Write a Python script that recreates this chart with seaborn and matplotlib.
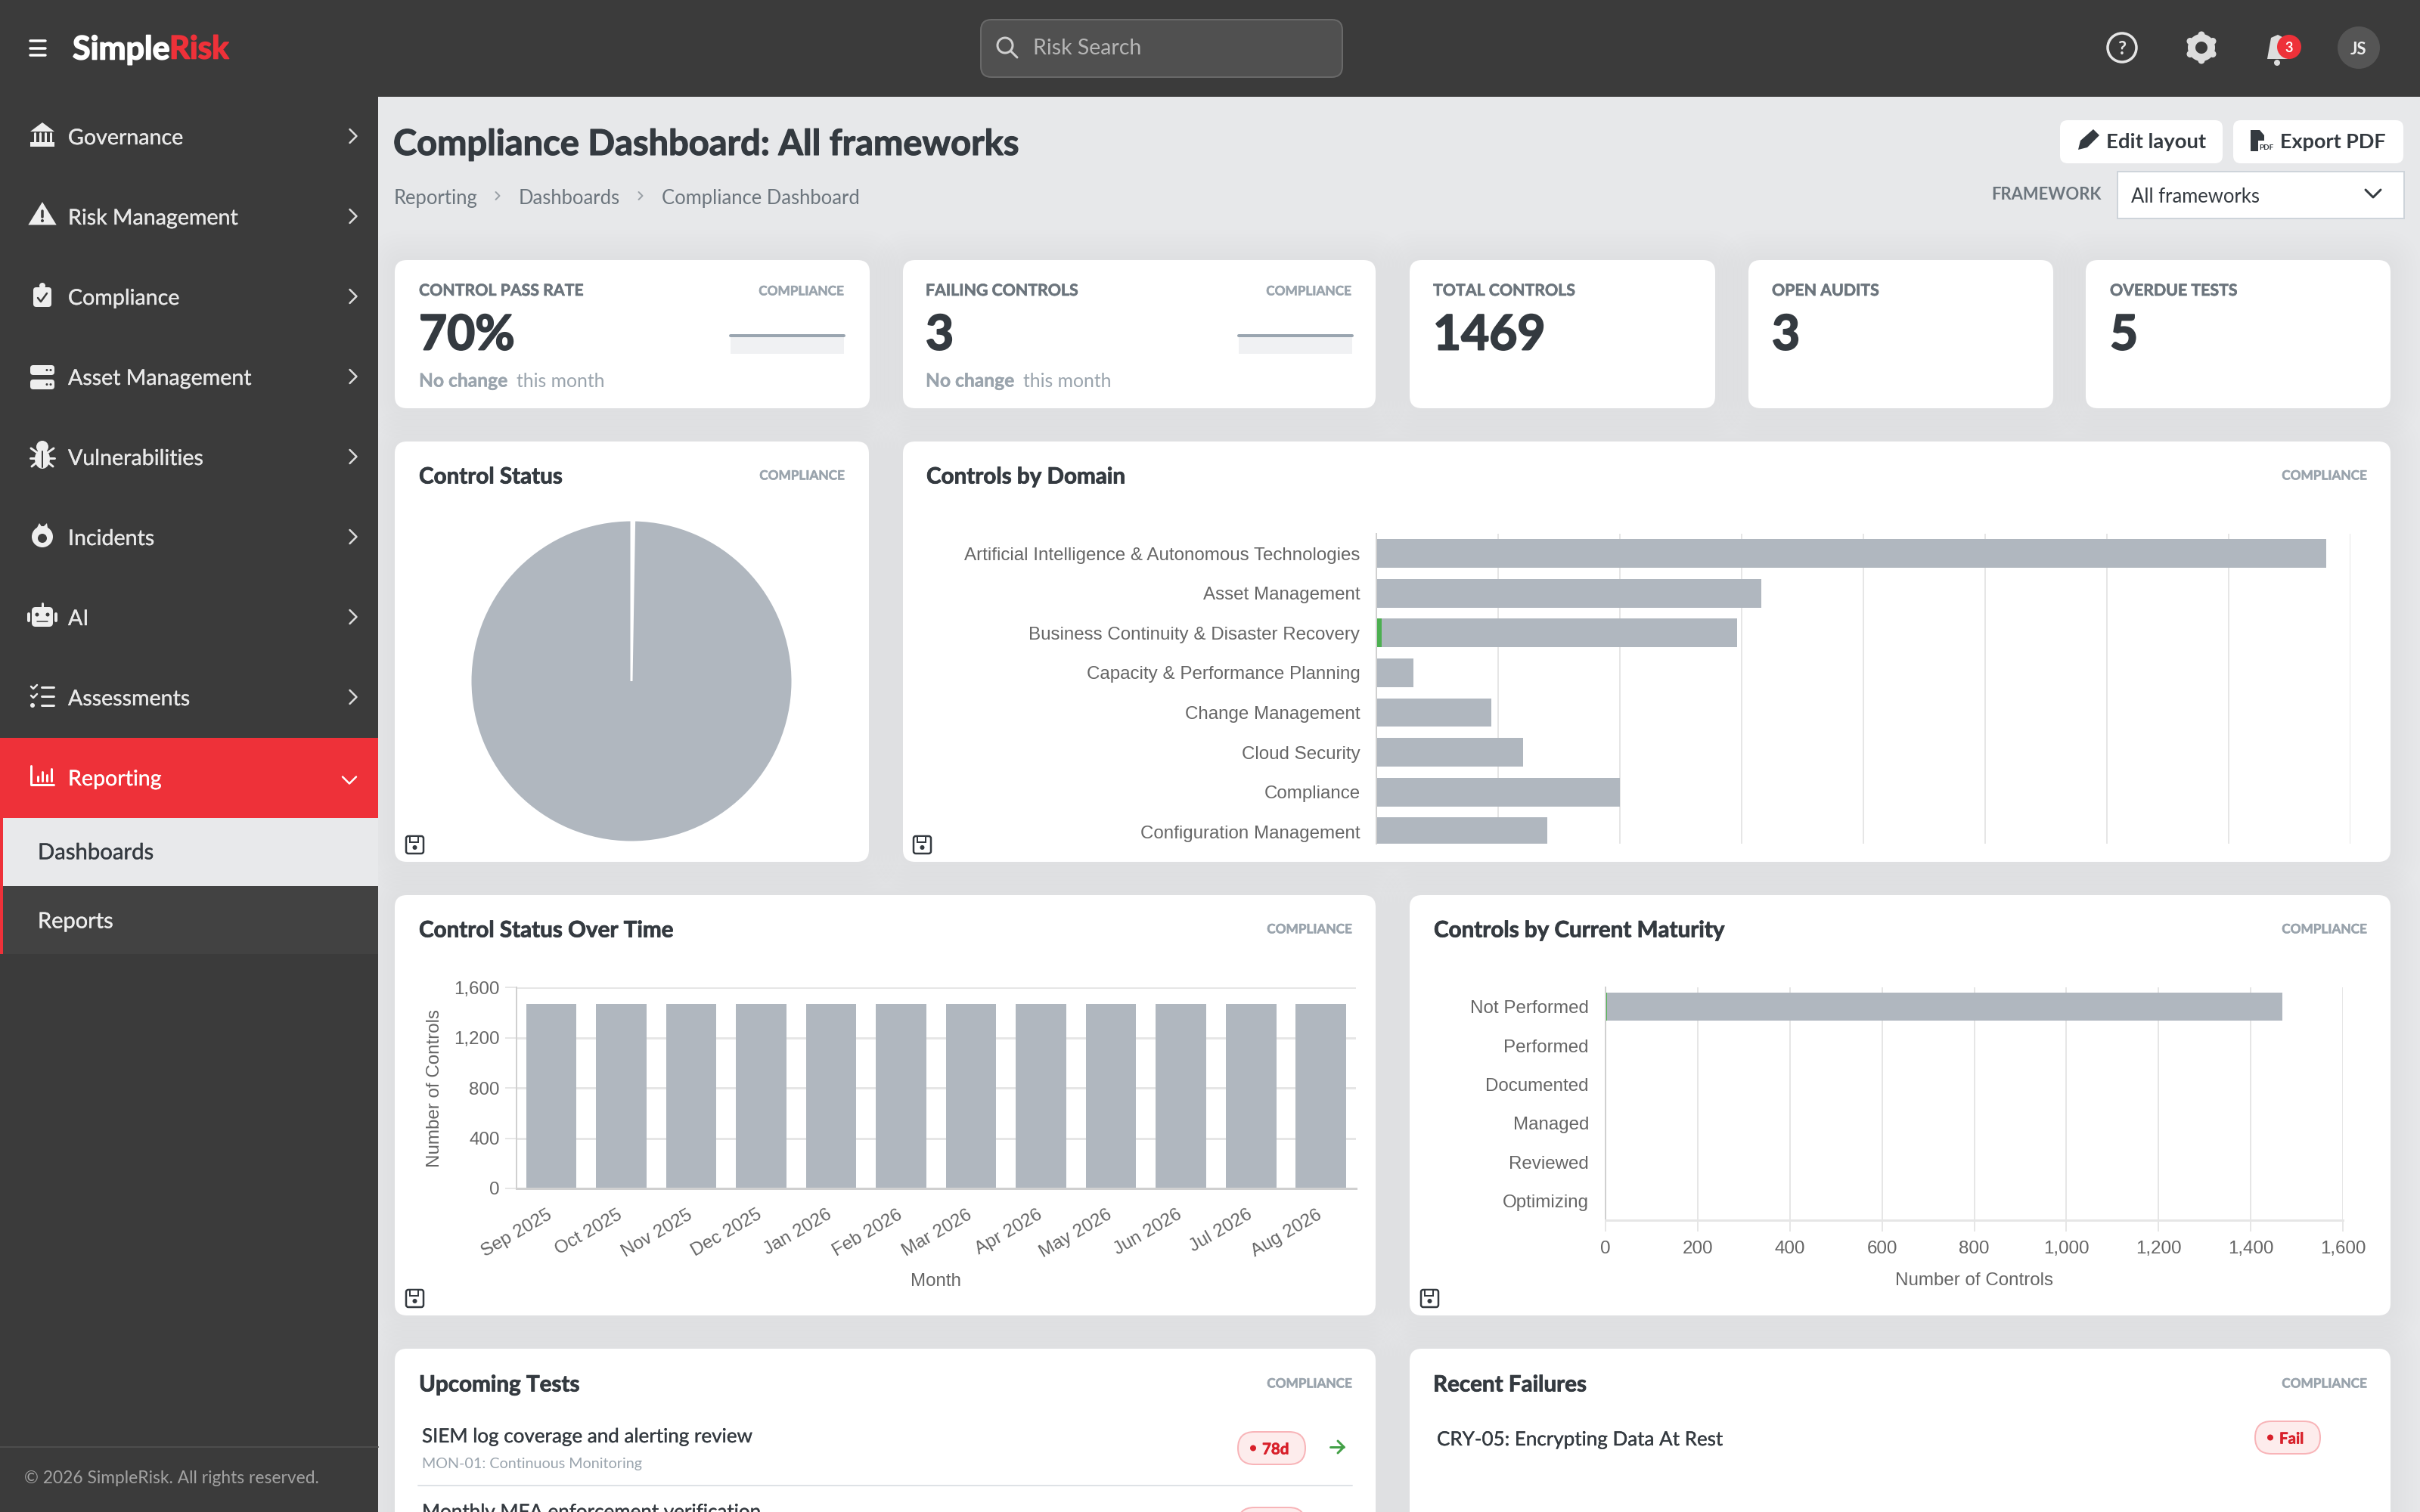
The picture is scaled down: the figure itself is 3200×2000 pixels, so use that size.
import matplotlib
matplotlib.use("Agg")
import matplotlib.pyplot as plt
import matplotlib.patheffects as pe
from matplotlib.transforms import ScaledTranslation
import seaborn as sns
from matplotlib.patches import FancyBboxPatch, Circle, Polygon, Ellipse, Rectangle

# data
domains = ["Artificial Intelligence & Autonomous Technologies", "Asset Management",
           "Business Continuity & Disaster Recovery", "Capacity & Performance Planning",
           "Change Management", "Cloud Security", "Compliance", "Configuration Management"]
domain_total = [390, 158, 148, 15, 47, 60, 100, 70]
domain_pass = [0, 0, 2, 0, 0, 0, 0, 0]
domain_ticks = [0, 50, 100, 150, 200, 250, 300, 350, 400]

months = ["Sep 2025", "Oct 2025", "Nov 2025", "Dec 2025", "Jan 2026", "Feb 2026",
          "Mar 2026", "Apr 2026", "May 2026", "Jun 2026", "Jul 2026", "Aug 2026"]
month_total = [1469] * 12
month_pass = [0, 0, 0, 0, 0, 0, 0, 0, 7, 7, 7, 7]
month_ticks = [0, 400, 800, 1200, 1600]

maturity = ["Not Performed", "Performed", "Documented", "Managed", "Reviewed", "Optimizing"]
maturity_total = [1469, 0, 0, 0, 0, 0]
maturity_pass = [4, 0, 0, 0, 0, 0]
maturity_ticks = [0, 200, 400, 600, 800, 1000, 1200, 1400, 1600]

pie_values = [4, 1465]
spark_pass = [70, 70, 70, 70, 70, 70]
spark_fail = [3, 3, 3, 3, 3, 3]

menu_items = ["Governance", "Risk Management", "Compliance", "Asset Management",
              "Vulnerabilities", "Incidents", "AI", "Assessments", "Reporting"]

DARK = "#3b3b3b"
RED = "#ee3139"
GREY_BAR = "#b0b7bf"
GREEN = "#4caf50"
BG = "#e7e8ea"
INK = "#343a40"
MUTED = "#9aa4ad"
CHART_TXT = "#666666"
GRID = "#e6e6e6"
UI = ["Lato", "DejaVu Sans"]
CHART = ["Liberation Sans", "DejaVu Sans"]

sns.set_theme(style="white")
plt.rcParams["font.family"] = UI
plt.rcParams["patch.force_edgecolor"] = False
plt.rcParams["patch.edgecolor"] = "none"
plt.rcParams["patch.linewidth"] = 0

W, H = 3200, 2000
fig = plt.figure(figsize=(16, 10), dpi=200, facecolor=BG)
bg = fig.add_axes([0, 0, 1, 1])
bg.set_xlim(0, W)
bg.set_ylim(H, 0)
bg.axis("off")


def px(v):
    return v * 72 / 200


def box(x0, y0, x1, y1, color, r=0, ec="none", lw=0, alpha=None, z=1):
    bg.add_patch(FancyBboxPatch((x0, y0), x1 - x0, y1 - y0, boxstyle=f"round,pad=0,rounding_size={r}",
                                fc=color, ec=ec, lw=px(lw), alpha=alpha, zorder=z))


def txt(x, y, s, size, color=INK, weight="normal", ha="left", z=5, stroke=0):
    t = bg.text(x, y, s, fontsize=px(size), color=color, fontweight=weight, ha=ha, va="center_baseline", zorder=z)
    if stroke:
        t.set_path_effects([pe.withStroke(linewidth=px(stroke), foreground=color)])
    return t


def line(xs, ys, color, lw=3, z=5):
    bg.plot(xs, ys, color=color, lw=px(lw), solid_capstyle="round", solid_joinstyle="round", zorder=z)


def chevron(x, y, s=8, color="#dddddd", lw=2.5, down=False):
    if down:
        line([x - s, x, x + s], [y - s / 2, y + s / 2, y - s / 2], color, lw)
    else:
        line([x - s / 2, x + s / 2, x - s / 2], [y - s, y, y + s], color, lw)


def card(x0, y0, x1, y1):
    for grow in range(40, 0, -5):
        box(x0 - grow, y0 - grow, x1 + grow, y1 + grow, "#30343a", r=16 + grow, alpha=0.0045, z=0.5)
    box(x0, y0, x1, y1, "white", r=16, z=1)


def floppy(x, y):
    box(x, y, x + 23, y + 23, "white", r=3, ec=INK, lw=2.5, z=3)
    box(x + 5, y, x + 16, y + 8, "white", ec=INK, lw=2, z=3)
    bg.add_patch(Circle((x + 11.5, y + 15), 3, fc=INK, zorder=4))


def axes_at(x0, y0, x1, y1):
    ax = fig.add_axes([x0 / W, 1 - y1 / H, (x1 - x0) / W, (y1 - y0) / H], facecolor="none")
    ax.set_zorder(3)
    return ax


def pill(x0, y0, x1, y1, label):
    box(x0, y0, x1, y1, "#fdecec", r=(y1 - y0) / 2, ec="#f8b4b8", lw=2, z=3)
    bg.add_patch(Circle((x0 + 20, (y0 + y1) / 2), 4, fc="#d8202a", zorder=4))
    txt(x0 + 32, (y0 + y1) / 2, label, 20.5, color="#d8202a", weight="bold", stroke=0.6)


# chrome
bg.add_patch(Rectangle((0, 0), W, 128, fc=DARK, zorder=2))
bg.add_patch(Rectangle((0, 0), 500, H, fc=DARK, zorder=2))
for yy in [53.5, 63.5, 73]:
    line([40, 60], [yy, yy], "white", 3.5)
txt(96, 62, "Simple", 43, color="white", weight="bold", stroke=1.6)
txt(224, 62, "Risk", 42, color=RED, weight="bold", stroke=1.6)

box(1297, 26, 1775, 102, "#505050", r=14, ec="#696969", lw=2, z=3)
bg.add_patch(Circle((1329, 60), 10, fc="none", ec="#cfcfcf", lw=px(3), zorder=5))
line([1337, 1345], [68, 76], "#cfcfcf", 3)
txt(1366, 62, "Risk Search", 28.6, color="#b5b5b5")

bg.add_patch(Circle((2806, 63), 19, fc="none", ec="#e5e5e5", lw=px(3.5), zorder=5))
txt(2806, 63, "?", 24, color="#e5e5e5", weight="bold", ha="center")
bg.add_patch(Circle((2911, 63), 13, fc="none", ec="#dddddd", lw=px(10), zorder=5))
for dx, dy in [(0, 17), (0, -17), (15, 8.5), (-15, 8.5), (15, -8.5), (-15, -8.5)]:
    bg.add_patch(Circle((2911 + dx, 63 + dy), 4.5, fc="#dddddd", zorder=5))
bg.add_patch(Polygon([(2998, 78), (3003, 50), (3012, 46), (3020, 50), (3025, 78)], fc="#dddddd", zorder=5))
bg.add_patch(Circle((3011, 83), 4, fc="#dddddd", zorder=5))
bg.add_patch(Circle((3027, 62), 16, fc=RED, zorder=6))
txt(3027, 62, "3", 18, color="white", weight="bold", ha="center", z=7)
bg.add_patch(Circle((3119, 63), 28, fc="#555555", zorder=5))
txt(3119, 63, "JS", 22, color="#eeeeee", weight="bold", ha="center", z=6)

# sidebar
for i, name in enumerate(menu_items):
    yc = 180 + 106 * i
    if name == "Reporting":
        bg.add_patch(Rectangle((0, 976), 500, 106, fc=RED, zorder=3))
        chevron(462, yc + 4, 9, "white", down=True)
    else:
        chevron(467, yc, 9)
    txt(90, yc + 0.5, name, 28.6, color="white" if name == "Reporting" else "#e8e8e8", stroke=0.3)

ic = "#eeeeee"
# governance
bg.add_patch(Polygon([(40, 174), (56, 162), (72, 174)], fc=ic, zorder=5))
for xx in [46, 53, 60, 67]:
    line([xx, xx], [176, 189], ic, 3)
bg.add_patch(Rectangle((40, 188), 32, 6, fc=ic, zorder=5))
# risk
bg.add_patch(Polygon([(40, 296), (56, 270), (72, 296)], fc=ic, ec=ic, lw=px(3), zorder=5))
line([56, 56], [279, 287], DARK, 3.5, z=6)
bg.add_patch(Circle((56, 292), 2, fc=DARK, zorder=6))
# compliance
box(44, 380, 68, 406, ic, r=4, z=5)
bg.add_patch(Circle((56, 378), 4, fc=ic, zorder=5))
line([50, 54, 62], [394, 399, 388], DARK, 2.5, z=6)
# assets
for yy in [483, 502]:
    box(40, yy, 72, yy + 13, ic, r=4, z=5)
    bg.add_patch(Circle((62, yy + 6.5), 1.5, fc=DARK, zorder=6))
    bg.add_patch(Circle((67, yy + 6.5), 1.5, fc=DARK, zorder=6))
# bug
bg.add_patch(Ellipse((56, 607), 20, 26, fc=ic, zorder=5))
bg.add_patch(Circle((56, 591), 8, fc=ic, zorder=5))
for sgn in [-1, 1]:
    line([56 + sgn * 8, 56 + sgn * 15], [598, 593], ic, 3)
    line([56 + sgn * 8, 56 + sgn * 16], [606, 606], ic, 3)
    line([56 + sgn * 8, 56 + sgn * 14], [612, 617], ic, 3)
line([56, 56], [597, 618], DARK, 2, z=6)
# incidents
bg.add_patch(Circle((56, 710), 14, fc=ic, zorder=5))
bg.add_patch(Polygon([(48, 700), (52, 692), (56, 698), (62, 692), (64, 704)], fc=ic, zorder=5))
bg.add_patch(Circle((56, 712), 6, fc=DARK, zorder=6))
# robot
box(42, 803, 70, 829, ic, r=5, z=5)
line([56, 56], [798, 803], ic, 3)
for xx in [38, 74]:
    line([xx, xx], [812, 821], ic, 4)
for xx in [49, 63]:
    bg.add_patch(Circle((xx, 813), 2.5, fc=DARK, zorder=6))
line([49, 63], [822, 822], DARK, 1.5, z=6)
# assessments
for yy in [909, 921, 933]:
    line([55, 71], [yy, yy], ic, 3)
for yy in [909, 921]:
    line([41, 44, 49], [yy - 1, yy + 2, yy - 3], ic, 2.5)
bg.add_patch(Circle((43, 933), 3, fc=ic, zorder=5))
# reporting
line([41, 41, 71], [1013, 1038, 1038], "white", 3)
for xx, top in [(50, 1027), (56, 1021), (62, 1025), (68, 1017)]:
    line([xx, xx], [top, 1033], "white", 3)

bg.add_patch(Rectangle((0, 1082), 4, 180, fc=RED, zorder=3))
bg.add_patch(Rectangle((4, 1082), 496, 90, fc="#e8e9eb", zorder=3))
bg.add_patch(Rectangle((4, 1172), 496, 90, fc="#424242", zorder=3))
txt(50, 1126, "Dashboards", 29.3, color=INK, stroke=0.3)
txt(50, 1217, "Reports", 29, color="#eeeeee", stroke=0.3)
line([0, 500], [1914, 1914], "#4d4d4d", 2)
txt(32, 1954, "© 2026 SimpleRisk. All rights reserved.", 22.8, color="#a3a3a3")

# page header
txt(520, 187, "Compliance Dashboard: All frameworks", 47, weight="bold", stroke=1.2)
txt(521, 260, "Reporting", 25.6, color="#6c757d")
chevron(658, 259, 5, "#9aa0a6", 2)
txt(686, 260, "Dashboards", 25.6, color="#6c757d")
chevron(847, 259, 5, "#9aa0a6", 2)
txt(875, 260, "Compliance Dashboard", 25.6, color="#6c757d")

box(2724, 159, 2939, 216, "white", r=10, z=2)
box(2953, 159, 3178, 216, "white", r=10, z=2)
bg.add_patch(Polygon([(2748, 198), (2751, 186), (2768, 171), (2776, 179), (2760, 195)], fc=INK, zorder=5))
txt(2785, 186, "Edit layout", 27.5, weight="bold")
bg.add_patch(Polygon([(2976, 172), (2988, 172), (2994, 179), (2994, 186), (2986, 186), (2986, 200), (2976, 200)],
                     fc=INK, zorder=5))
txt(2987, 194, "PDF", 10, weight="bold")
txt(3015, 186, "Export PDF", 27, weight="bold")
txt(2779, 256, "FRAMEWORK", 22, color="#6c757d", weight="bold", ha="right")
box(2800, 227, 3179, 289, "white", ec="#ced4da", lw=2, z=2)
txt(2818, 258, "All frameworks", 25.6)
chevron(3138, 256, 10, INK, 3, down=True)

# cards
for c in [(522, 344, 1150, 540), (1194, 344, 1819, 540), (1864, 344, 2268, 540), (2312, 344, 2715, 540),
          (2758, 344, 3161, 540), (522, 584, 1149, 1140), (1194, 584, 3161, 1140),
          (522, 1184, 1819, 1740), (1864, 1184, 3161, 1740), (522, 1784, 1819, 2060), (1864, 1784, 3161, 2060)]:
    card(*c)

kpis = [(554, "CONTROL PASS RATE", "70%"), (1224, "FAILING CONTROLS", "3"), (1895, "TOTAL CONTROLS", "1469"),
        (2343, "OPEN AUDITS", "3"), (2790, "OVERDUE TESTS", "5")]
for x, label, value in kpis:
    txt(x, 383, label, 21.3, color="#6c757d", weight="bold", stroke=0.6)
    txt(x, 439, value, 64, weight="bold", stroke=2)
for x, right in [(554, 1116), (1224, 1787)]:
    txt(x, 502, "No change", 24.6, color=MUTED, weight="bold", stroke=0.4)
    txt(x + 129, 502, "this month", 24.8, color=MUTED)
    txt(right, 384, "COMPLIANCE", 17.2, color=MUTED, weight="bold", ha="right", stroke=0.5)

for (x0, x1), series in [((966, 1116), spark_pass), ((1638, 1788), spark_fail)]:
    sp = axes_at(x0, 444, x1, 468)
    sns.lineplot(x=range(len(series)), y=series, color="#9aa5b0", lw=px(4), ax=sp, legend=False)
    sp.fill_between(range(len(series)), series, 0, color="#f0f1f3", lw=0)
    sp.set_xlim(0, len(series) - 1)
    sp.set_ylim(0, series[0])
    sp.axis("off")
    sp.lines[0].set_clip_on(False)

titles = [(554, 628, "Control Status", 1117), (1225, 628, "Controls by Domain", 3130),
          (554, 1228, "Control Status Over Time", 1788), (1896, 1228, "Controls by Current Maturity", 3130),
          (554, 1829, "Upcoming Tests", 1788), (1895, 1829, "Recent Failures", 3130)]
for x, y, title, right in titles:
    txt(x, y, title, 29.6, weight="bold", stroke=0.8)
    txt(right, y, "COMPLIANCE", 17.2, color=MUTED, weight="bold", ha="right", stroke=0.5)
for x, y in [(537, 1106), (1208, 1106), (537, 1706), (1879, 1706)]:
    floppy(x, y)

# pie
pie_ax = axes_at(622, 688, 1048, 1114)
pie_ax.pie(pie_values, colors=["white", GREY_BAR], startangle=90, counterclock=False, radius=1,
           wedgeprops={"edgecolor": "white", "linewidth": px(3)})
pie_ax.set_xlim(-1, 1)
pie_ax.set_ylim(-1, 1)

# controls by domain
ax = axes_at(1820.5, 706, 3108, 1116)
sns.barplot(x=domain_total, y=domains, orient="h", color=GREY_BAR, saturation=1, width=0.72, linewidth=0, ax=ax)
sns.barplot(x=domain_pass, y=domains, orient="h", color=GREEN, saturation=1, width=0.72, linewidth=0, ax=ax)
ax.set_xlim(0, domain_ticks[-1])
ax.set_ylim(7.3, -0.5)
ax.set_xticks(domain_ticks)
ax.set_xlabel("")
ax.tick_params(axis="x", length=0, labelbottom=False)
ax.tick_params(axis="y", length=0, pad=px(22), labelsize=px(24.2), labelcolor=CHART_TXT)
ax.grid(axis="x", color=GRID, lw=px(2))
ax.set_axisbelow(True)

# status over time
ax2 = axes_at(682.6, 1306, 1793, 1572)
sns.barplot(x=months, y=month_total, color=GREY_BAR, saturation=1, width=0.72, linewidth=0, ax=ax2)
sns.barplot(x=months, y=month_pass, color=GREEN, saturation=1, width=0.72, linewidth=0, ax=ax2)
ax2.set_ylim(0, month_ticks[-1])
ax2.set_yticks(month_ticks)
ax2.set_yticklabels([f"{v:,}" for v in month_ticks])
ax2.tick_params(axis="y", length=px(15), width=px(2), color=GRID, pad=px(7), labelsize=px(24.2), labelcolor=CHART_TXT,
                left=True)
ax2.tick_params(axis="x", length=0, pad=px(24), labelsize=px(24.2), labelcolor=CHART_TXT)
for lab in ax2.get_xticklabels():
    lab.set_rotation(30)
    lab.set_ha("right")
    lab.set_rotation_mode("anchor")
    lab.set_transform(lab.get_transform() + ScaledTranslation(-6 / 200, 0, fig.dpi_scale_trans))
ax2.grid(axis="y", color=GRID, lw=px(3))
ax2.set_axisbelow(True)
ax2.set_xlabel("Month", fontsize=px(24.2), color=CHART_TXT, labelpad=px(16))
ax2.set_ylabel("Number of Controls", fontsize=px(24.2), color=CHART_TXT, labelpad=px(14))

# maturity
ax3 = axes_at(2123, 1306, 3098, 1614)
sns.barplot(x=maturity_total, y=maturity, orient="h", color=GREY_BAR, saturation=1, width=0.72, linewidth=0, ax=ax3)
sns.barplot(x=maturity_pass, y=maturity, orient="h", color=GREEN, saturation=1, width=0.72, linewidth=0, ax=ax3)
ax3.set_xlim(0, maturity_ticks[-1])
ax3.set_xticks(maturity_ticks)
ax3.set_xticklabels([f"{v:,}" for v in maturity_ticks])
ax3.tick_params(axis="x", length=px(15), width=px(2), color=GRID, pad=px(12), labelsize=px(24.2), labelcolor=CHART_TXT,
                bottom=True)
ax3.tick_params(axis="y", length=0, pad=px(22), labelsize=px(24.2), labelcolor=CHART_TXT)
ax3.grid(axis="x", color=GRID, lw=px(2))
ax3.set_axisbelow(True)
ax3.set_xlabel("Number of Controls", fontsize=px(24.2), color=CHART_TXT, labelpad=px(20))

for a in [ax, ax2, ax3]:
    sns.despine(ax=a, top=True, right=True)
    a.spines["left"].set_color("#d0d0d0")
    a.spines["left"].set_linewidth(px(2))
    a.spines["bottom"].set_color("#d0d0d0")
    a.spines["bottom"].set_linewidth(px(3))
    for lab in a.get_xticklabels() + a.get_yticklabels():
        lab.set_fontfamily(CHART)
    a.xaxis.label.set_fontfamily(CHART)
    a.yaxis.label.set_fontfamily(CHART)
ax.spines["bottom"].set_visible(False)
ax3.spines["bottom"].set_color(GRID)

# lists at the bottom
txt(558, 1898, "SIEM log coverage and alerting review", 26, color=INK, stroke=0.3)
txt(558, 1935, "MON-01: Continuous Monitoring", 19.8, color=MUTED)
pill(1637, 1894, 1726, 1937, "78d")
line([1759, 1777], [1914, 1914], "#43a047", 3)
line([1769, 1777, 1769], [1906, 1914, 1922], "#43a047", 3)
line([553, 1788], [1965, 1965], "#dee2e6", 2)
txt(558, 1998, "Monthly MFA enforcement verification", 26, color=INK, stroke=0.3)
pill(1637, 1994, 1726, 2037, "")
txt(1900, 1902, "CRY-05: Encrypting Data At Rest", 26, color=INK, stroke=0.3)
pill(2982, 1880, 3068, 1923, "Fail")

fig.savefig("out.png", dpi=200, facecolor=BG)
